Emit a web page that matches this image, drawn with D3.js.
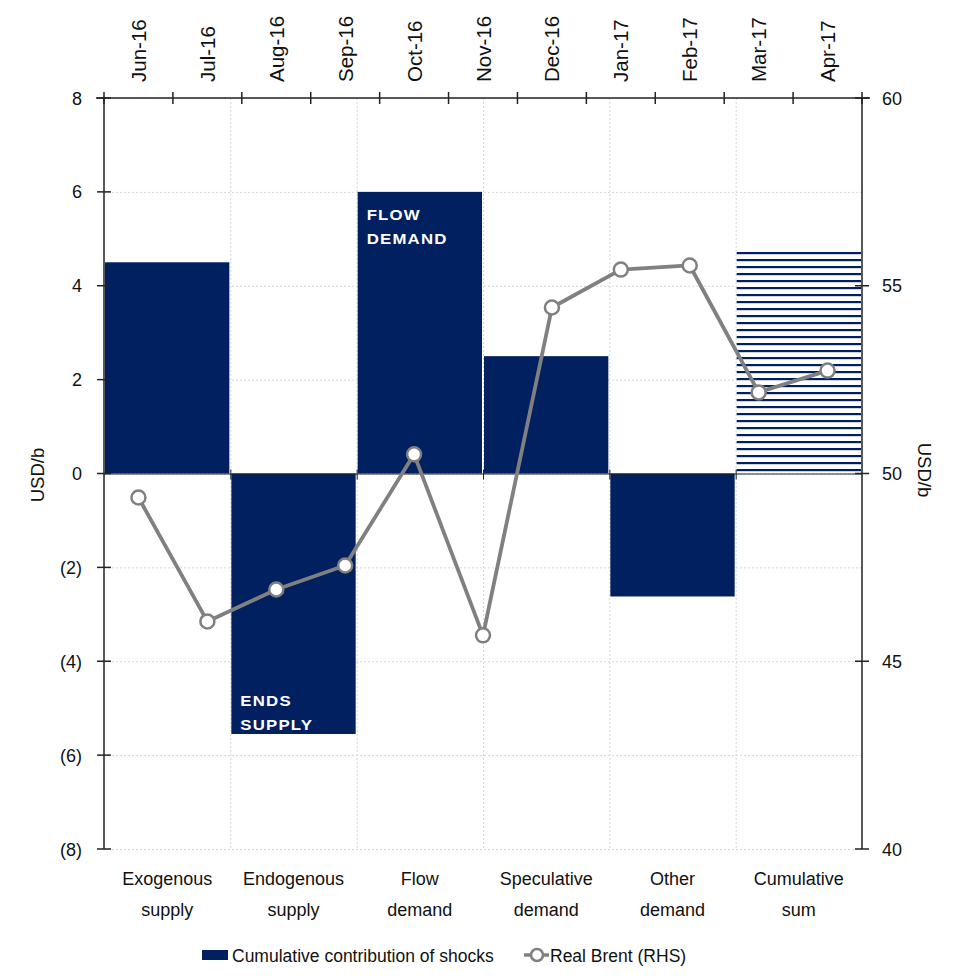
<!DOCTYPE html>
<html>
<head>
<meta charset="utf-8">
<script src="https://cdn.jsdelivr.net/npm/d3@7/dist/d3.min.js"></script>
<style>
  html, body { margin: 0; padding: 0; background: #fff; }
  text { font-family: "Liberation Sans", Arial, sans-serif; fill: #111; }
</style>
</head>
<body>
<svg id="chart" width="960" height="980"></svg>
<script>
// Shock categories (bottom axis) and their cumulative contributions, USD/b
const categories = [
  ["Exogenous", "supply"],
  ["Endogenous", "supply"],
  ["Flow", "demand"],
  ["Speculative", "demand"],
  ["Other", "demand"],
  ["Cumulative", "sum"]
];
const contributions = [4.5, -5.55, 6.0, 2.5, -2.62, 4.73];

// Monthly real Brent price (right axis), USD/b
const months = ["Jun-16", "Jul-16", "Aug-16", "Sep-16", "Oct-16", "Nov-16",
                "Dec-16", "Jan-17", "Feb-17", "Mar-17", "Apr-17"];
const brent = [49.36, 46.06, 46.91, 47.55, 50.51, 45.69, 54.42, 55.43, 55.54, 52.16, 52.74];

// Axis ticks
const leftTicks = [-8, -6, -4, -2, 0, 2, 4, 6, 8];
const rightTicks = [40, 45, 50, 55, 60];

// Annotations placed inside bars
const barNotes = [
  { cat: 2, lines: ["FLOW", "DEMAND"], at: "top" },
  { cat: 1, lines: ["ENDS", "SUPPLY"], at: "bottom" }
];

const navy = "#002060";
const grey = "#808080";

const svg = d3.select("#chart");
const L = 104, R = 862, T = 98, B = 849;

const xCat = d3.scaleBand().domain(d3.range(categories.length)).range([L, R]).padding(0);
const xMon = d3.scaleBand().domain(months).range([L, R]).padding(0);
const yL = d3.scaleLinear().domain([-8, 8]).range([B, T]);
const yR = d3.scaleLinear().domain([40, 60]).range([B, T]);

const fmt = v => v < 0 ? `(${Math.abs(v)})` : `${v}`;

// Hatch pattern for the cumulative bar
const defs = svg.append("defs");
const pat = defs.append("pattern")
  .attr("id", "hatch").attr("patternUnits", "userSpaceOnUse")
  .attr("width", 8).attr("height", 7);
pat.append("rect").attr("width", 8).attr("height", 7).attr("fill", "#fff");
pat.append("rect").attr("y", 0).attr("width", 8).attr("height", 2.2).attr("fill", navy);

// Gridlines
const grid = svg.append("g").attr("stroke", "#d6d6d6").attr("stroke-width", 1)
  .attr("stroke-dasharray", "2,2");
grid.selectAll("line.h").data(leftTicks).join("line")
  .attr("x1", L).attr("x2", R)
  .attr("y1", d => yL(d) + 0.5).attr("y2", d => yL(d) + 0.5);
const catEdges = d3.range(1, categories.length).map(i => xCat(i));
grid.selectAll("line.v").data(catEdges).join("line")
  .attr("x1", d => d + 0.5).attr("x2", d => d + 0.5)
  .attr("y1", T).attr("y2", B);

// Bars
const bars = svg.append("g");
bars.selectAll("rect").data(contributions).join("rect")
  .attr("x", (d, i) => xCat(i) + 1)
  .attr("width", xCat.bandwidth() - 2)
  .attr("y", d => yL(Math.max(0, d)))
  .attr("height", d => Math.abs(yL(d) - yL(0)))
  .attr("fill", (d, i) => i === categories.length - 1 ? "url(#hatch)" : navy);

// Zero line with category ticks
svg.append("line").attr("x1", L).attr("x2", R)
  .attr("y1", yL(0) + 0.5).attr("y2", yL(0) + 0.5)
  .attr("stroke", "#222").attr("stroke-width", 1);
svg.append("g").selectAll("line").data(catEdges).join("line")
  .attr("x1", d => d + 0.5).attr("x2", d => d + 0.5)
  .attr("y1", yL(0) - 4).attr("y2", yL(0) + 6)
  .attr("stroke", "#222").attr("stroke-width", 1);

// Bar annotations (wide capitals)
barNotes.forEach(n => {
  const v = contributions[n.cat];
  const x0 = xCat(n.cat) + 10;
  const yStart = n.at === "top" ? yL(v) + 28 : yL(v) - 28.5;
  svg.append("g").selectAll("text").data(n.lines).join("text")
    .attr("transform", (d, i) => `translate(${x0},${yStart + i * 24.5}) scale(1.2,1)`)
    .attr("font-family", "'DejaVu Sans', sans-serif")
    .attr("font-size", 14).attr("font-weight", "bold")
    .attr("letter-spacing", "1px")
    .style("fill", "#fff")
    .text(d => d);
});

// Left axis
svg.append("line").attr("x1", L).attr("x2", L).attr("y1", T).attr("y2", B)
  .attr("stroke", "#222").attr("stroke-width", 1.5);
const lt = svg.append("g");
lt.selectAll("line").data(leftTicks).join("line")
  .attr("x1", L - 7).attr("x2", L + 7)
  .attr("y1", d => yL(d)).attr("y2", d => yL(d))
  .attr("stroke", "#222").attr("stroke-width", 1.5);
lt.selectAll("text").data(leftTicks).join("text")
  .attr("x", 82).attr("y", d => yL(d) + 6.5)
  .attr("text-anchor", "end").attr("font-size", 18)
  .text(fmt);

// Right axis
svg.append("line").attr("x1", R).attr("x2", R).attr("y1", T).attr("y2", B)
  .attr("stroke", "#222").attr("stroke-width", 1.5);
const rt = svg.append("g");
rt.selectAll("line").data(rightTicks).join("line")
  .attr("x1", R - 7).attr("x2", R + 7)
  .attr("y1", d => yR(d)).attr("y2", d => yR(d))
  .attr("stroke", "#222").attr("stroke-width", 1.5);
rt.selectAll("text").data(rightTicks).join("text")
  .attr("x", 882).attr("y", d => yR(d) + 6.5)
  .attr("text-anchor", "start").attr("font-size", 18)
  .text(d => d);

// Top (month) axis
svg.append("line").attr("x1", L - 8).attr("x2", R + 8).attr("y1", T).attr("y2", T)
  .attr("stroke", "#222").attr("stroke-width", 1.5);
const monEdges = months.map(m => xMon(m)).concat([R]);
svg.append("g").selectAll("line").data(monEdges).join("line")
  .attr("x1", d => d).attr("x2", d => d)
  .attr("y1", T - 6).attr("y2", T + 6)
  .attr("stroke", "#222").attr("stroke-width", 1.5);
svg.append("g").selectAll("text").data(months).join("text")
  .attr("transform", d => `translate(${xMon(d) + xMon.bandwidth() / 2 + 7.5},82) rotate(-90)`)
  .attr("text-anchor", "start").attr("font-size", 20.5)
  .text(d => d);

// Bottom category labels
const cl = svg.append("g");
categories.forEach((c, i) => {
  cl.append("text")
    .attr("x", xCat(i) + xCat.bandwidth() / 2).attr("y", 885)
    .attr("text-anchor", "middle").attr("font-size", 18).text(c[0]);
  cl.append("text")
    .attr("x", xCat(i) + xCat.bandwidth() / 2).attr("y", 916)
    .attr("text-anchor", "middle").attr("font-size", 18).text(c[1]);
});

// Axis titles
svg.append("text").attr("transform", `translate(44,475) rotate(-90)`)
  .attr("text-anchor", "middle").attr("font-size", 18.5).text("USD/b");
svg.append("text").attr("transform", `translate(918,470) rotate(90)`)
  .attr("text-anchor", "middle").attr("font-size", 18.5).text("USD/b");

// Brent line
const pts = brent.map((v, i) => [xMon(months[i]) + xMon.bandwidth() / 2, yR(v)]);
svg.append("path").datum(pts)
  .attr("d", d3.line())
  .attr("fill", "none").attr("stroke", grey).attr("stroke-width", 3.8)
  .attr("stroke-linejoin", "round");
svg.append("g").selectAll("circle").data(pts).join("circle")
  .attr("cx", d => d[0]).attr("cy", d => d[1]).attr("r", 7)
  .attr("fill", "#fff").attr("stroke", grey).attr("stroke-width", 2.5);

// Legend
const lg = svg.append("g");
lg.append("rect").attr("x", 202).attr("y", 950).attr("width", 26).attr("height", 10).attr("fill", navy);
lg.append("text").attr("x", 232).attr("y", 962).attr("font-size", 17.5).text("Cumulative contribution of shocks");
lg.append("line").attr("x1", 524).attr("x2", 549).attr("y1", 955).attr("y2", 955)
  .attr("stroke", grey).attr("stroke-width", 3.5);
lg.append("circle").attr("cx", 537).attr("cy", 955).attr("r", 6)
  .attr("fill", "#fff").attr("stroke", grey).attr("stroke-width", 2.5);
lg.append("text").attr("x", 550).attr("y", 962).attr("font-size", 17.5).text("Real Brent (RHS)");
</script>
</body>
</html>
